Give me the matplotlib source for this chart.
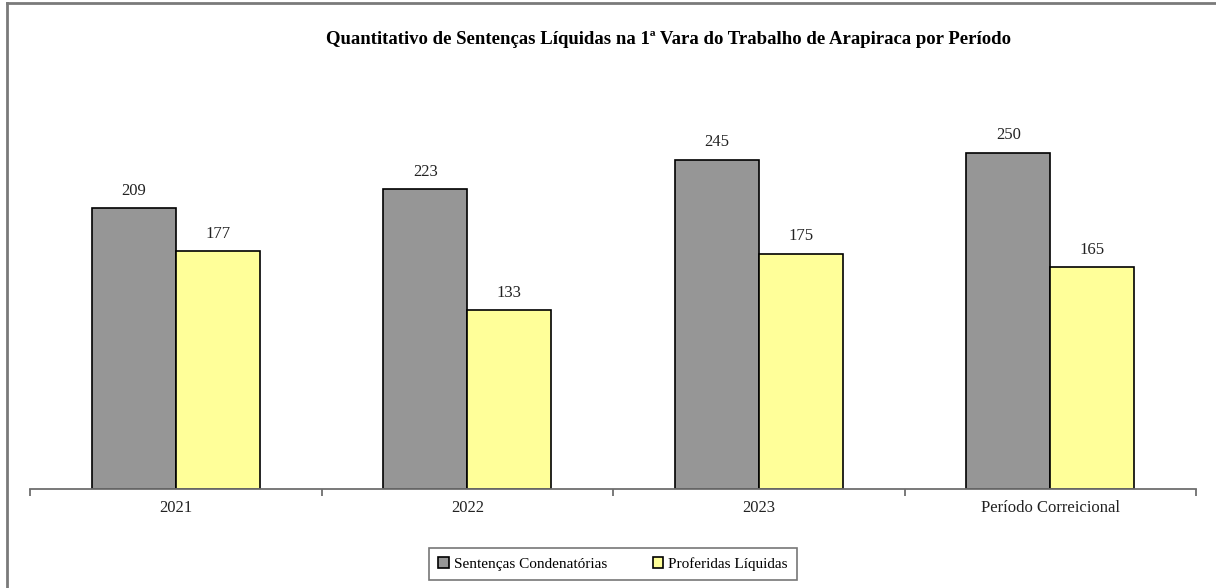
import matplotlib
matplotlib.use("Agg")
import matplotlib.pyplot as plt
import numpy as np
from matplotlib.lines import Line2D

periods = ["2021", "2022", "2023", "Período Correicional"]
condenatorias = [209, 223, 245, 250]
liquidas = [177, 133, 175, 165]
series_names = ["Sentenças Condenatórias", "Proferidas Líquidas"]
title = "Quantitativo de Sentenças Líquidas na 1ª Vara do Trabalho de Arapiraca por Período"

plt.rcParams["font.family"] = ["Liberation Serif", "DejaVu Serif"]

W, H = 1216, 588
fig = plt.figure(figsize=(W / 100, H / 100), dpi=100)
ax = fig.add_axes([30 / W, (H - 489) / H, (1196 - 30) / W, (489 - 86) / H])

x = np.arange(len(periods))
bw = 0.288
b1 = ax.bar(x - bw / 2, condenatorias, bw, color="#969696", edgecolor="black", linewidth=1.2,
            label=series_names[0])
b2 = ax.bar(x + bw / 2, liquidas, bw, color="#FFFF99", edgecolor="black", linewidth=1.2,
            label=series_names[1])

for bars in (b1, b2):
    for r in bars:
        ax.annotate(f"{int(r.get_height())}", (r.get_x() + r.get_width() / 2, r.get_height()),
                    xytext=(0, 7), textcoords="offset points", ha="center", va="bottom",
                    fontsize=12, color="#222222")

ax.set_xlim(-0.5, len(periods) - 0.5)
ax.set_ylim(0, 300)
ax.set_yticks([])
for s in ["left", "right", "top"]:
    ax.spines[s].set_visible(False)
ax.spines["bottom"].set_color("#6e6e6e")
ax.spines["bottom"].set_linewidth(1.3)

ax.set_xticks(x)
ax.set_xticklabels(periods, fontsize=12, color="#222222")
ax.tick_params(axis="x", which="major", length=0, pad=8)
ax.set_xticks(np.arange(-0.5, len(periods)), minor=True)
ax.tick_params(axis="x", which="minor", length=5, width=1.3, color="#6e6e6e")

fig.text(668 / W, 1 - 40 / H, title, ha="center", va="center", fontsize=13.5, fontweight="bold")

leg = fig.legend(handles=[b1, b2], loc="center", bbox_to_anchor=(613 / W, 1 - 564 / H),
                 ncol=2, fontsize=11, frameon=True, fancybox=False, handlelength=0.7,
                 handleheight=0.7, handletextpad=0.3, columnspacing=3.0, borderpad=0.6,
                 borderaxespad=0)
leg.get_frame().set_edgecolor("#555555")
leg.get_frame().set_linewidth(1.2)

# outer chart border (left and top visible)
fig.add_artist(Line2D([7 / W, 7 / W], [0, 1 - 3 / H], transform=fig.transFigure,
                      color="#7a7a7a", linewidth=2))
fig.add_artist(Line2D([7 / W, 1], [1 - 3 / H, 1 - 3 / H], transform=fig.transFigure,
                      color="#7a7a7a", linewidth=2))

fig.savefig("out.png", dpi=100)
